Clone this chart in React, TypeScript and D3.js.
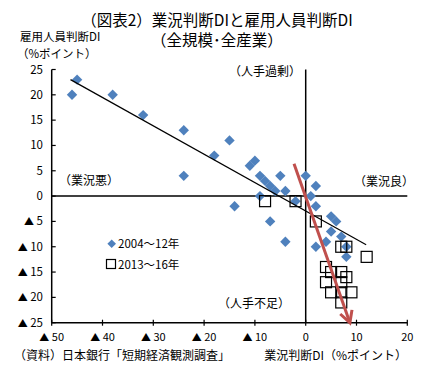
import React from "react";
import * as d3 from "d3";

const W = 434;
const H = 379;

// 2004～12年 (diamonds): [業況判断DI, 雇用人員判断DI]
const series2004_12: [number, number][] = [
  [-46, 20], [-45, 23], [-38, 20], [-32, 16], [-24, 13], [-24, 4], [-18, 8],
  [-15, 11], [-11, 6], [-10, 7], [-9, 4], [-8, 3], [-7, 2], [-6, 1], [-5, 4],
  [-4, 1], [-9, 0], [-14, -2], [-2, -1], [-7, -5], [-4, -9], [0, 4], [2, 2],
  [1, 0], [2, -2], [5, -4], [6, -5], [5, -7], [7, -8], [4, -9], [2, -10],
  [8, -10], [8, -12],
];

// 2013～16年 (squares)
const series2013_16: [number, number][] = [
  [-8, -1], [-2, -1], [2, -5], [7, -10], [8, -10], [12, -12], [4, -14],
  [5, -15], [7, -15], [8, -16], [4, -17], [7, -17], [5, -19], [7, -19],
  [9, -19], [7, -21],
];

const trendLine: [number, number][] = [[-46.3, 23], [11.9, -9.6]];
const arrowLine: [number, number][] = [[-2.3, 6.4], [8.7, -25]];

const xTicks = [-50, -40, -30, -20, -10, 0, 10, 20];
const yTicks = [25, 20, 15, 10, 5, 0, -5, -10, -15, -20, -25];

const FONT = "'Noto Sans CJK JP', 'Noto Sans', sans-serif";

function TickLabel({ v }: { v: number }) {
  if (v < 0) {
    return (
      <>
        <tspan fontSize={10}>▲</tspan>
        <tspan> {Math.abs(v)}</tspan>
      </>
    );
  }
  return <>{v}</>;
}

export default function App() {
  const x = d3.scaleLinear().domain([-50, 20]).range([51.7, 407.3]);
  const y = d3.scaleLinear().domain([-25, 25]).range([322.7, 69.5]);
  const line = d3
    .line<[number, number]>()
    .x((d) => x(d[0]))
    .y((d) => y(d[1]));

  // arrow head
  const [a0, a1] = arrowLine;
  const ax0 = x(a0[0]), ay0 = y(a0[1]), ax1 = x(a1[0]), ay1 = y(a1[1]);
  const ang = Math.atan2(ay1 - ay0, ax1 - ax0);
  const hl = 13, ha = 0.5;
  const h1 = [ax1 - hl * Math.cos(ang - ha), ay1 - hl * Math.sin(ang - ha)];
  const h2 = [ax1 - hl * Math.cos(ang + ha), ay1 - hl * Math.sin(ang + ha)];

  const blue = "#4f81bd";
  const red = "#c0504d";

  return (
    <svg
      width={W}
      height={H}
      style={{ position: "absolute", left: 0, top: 0, background: "#fff" }}
      fontFamily={FONT}
    >
      <rect width={W} height={H} fill="#fff" />
      {/* titles */}
      <text x={217} y={26} fontSize={15.5} textAnchor="middle" fill="#000">
        （図表2）業況判断DIと雇用人員判断DI
      </text>
      <text x={217} y={46} fontSize={15.5} textAnchor="middle" fill="#000">
        （全規模･全産業）
      </text>
      <text x={20} y={41} fontSize={11.5} fill="#000">雇用人員判断DI</text>
      <text x={17} y={58} fontSize={11.5} fill="#000">（%ポイント）</text>

      {/* axes */}
      <line x1={x(-50)} x2={x(-50)} y1={y(25)} y2={y(-25)} stroke="#000" strokeWidth={1.5} />
      <line x1={x(-50)} x2={x(20)} y1={y(-25)} y2={y(-25)} stroke="#000" strokeWidth={1.5} />
      <line x1={x(0)} x2={x(0)} y1={y(25)} y2={y(-25)} stroke="#000" strokeWidth={1.5} />
      <line x1={x(-50)} x2={x(20)} y1={y(0)} y2={y(0)} stroke="#000" strokeWidth={1.5} />

      {yTicks.map((t) => (
        <g key={`y${t}`}>
          <line x1={x(-50)} x2={x(-50) + 4} y1={y(t)} y2={y(t)} stroke="#000" strokeWidth={1.2} />
          <text x={43} y={y(t) + 4} fontSize={11.5} textAnchor="end" fill="#000">
            <TickLabel v={t} />
          </text>
        </g>
      ))}
      {xTicks.map((t) => (
        <g key={`x${t}`}>
          <line x1={x(t)} x2={x(t)} y1={y(-25) - 3} y2={y(-25) + 3} stroke="#000" strokeWidth={1.2} />
          <text x={x(t)} y={341} fontSize={11} textAnchor="middle" fill="#000">
            <TickLabel v={t} />
          </text>
        </g>
      ))}

      {/* quadrant labels */}
      <text x={229} y={76} fontSize={12} fill="#000">（人手過剰）</text>
      <text x={59} y={185} fontSize={12} fill="#000">（業況悪）</text>
      <text x={354} y={186} fontSize={12} fill="#000">（業況良）</text>
      <text x={218} y={308} fontSize={12} fill="#000">（人手不足）</text>

      {/* data: diamonds */}
      {series2004_12.map((d, i) => {
        const cx = x(d[0]), cy = y(d[1]), r = 5.2;
        return (
          <path
            key={`d${i}`}
            d={`M${cx},${cy - r}L${cx + r},${cy}L${cx},${cy + r}L${cx - r},${cy}Z`}
            fill={blue}
          />
        );
      })}

      {/* trend line */}
      <path d={line(trendLine) ?? ""} fill="none" stroke="#000" strokeWidth={1.2} />

      {/* squares */}
      {series2013_16.map((d, i) => (
        <rect
          key={`s${i}`}
          x={x(d[0]) - 5.5}
          y={y(d[1]) - 5.5}
          width={11}
          height={11}
          fill="none"
          stroke="#000"
          strokeWidth={1.2}
        />
      ))}

      {/* red arrow */}
      <path d={line(arrowLine) ?? ""} fill="none" stroke={red} strokeWidth={3} />
      <path
        d={`M${h1[0]},${h1[1]}L${ax1},${ay1}L${h2[0]},${h2[1]}`}
        fill="none"
        stroke={red}
        strokeWidth={3}
        strokeLinejoin="miter"
      />

      {/* legend */}
      <path d="M111.7,239.5L116,243.8L111.7,248.1L107.4,243.8Z" fill={blue} />
      <text x={118} y={248} fontSize={11.5} fill="#000">2004～12年</text>
      <rect x={106.5} y={259.5} width={9} height={9} fill="none" stroke="#000" strokeWidth={1.2} />
      <text x={118} y={269} fontSize={11.5} fill="#000">2013～16年</text>

      {/* footers */}
      <text x={14} y={360} fontSize={12} fill="#000">（資料）日本銀行「短期経済観測調査」</text>
      <text x={407} y={360} fontSize={12} textAnchor="end" fill="#000">業況判断DI（%ポイント）</text>
    </svg>
  );
}
